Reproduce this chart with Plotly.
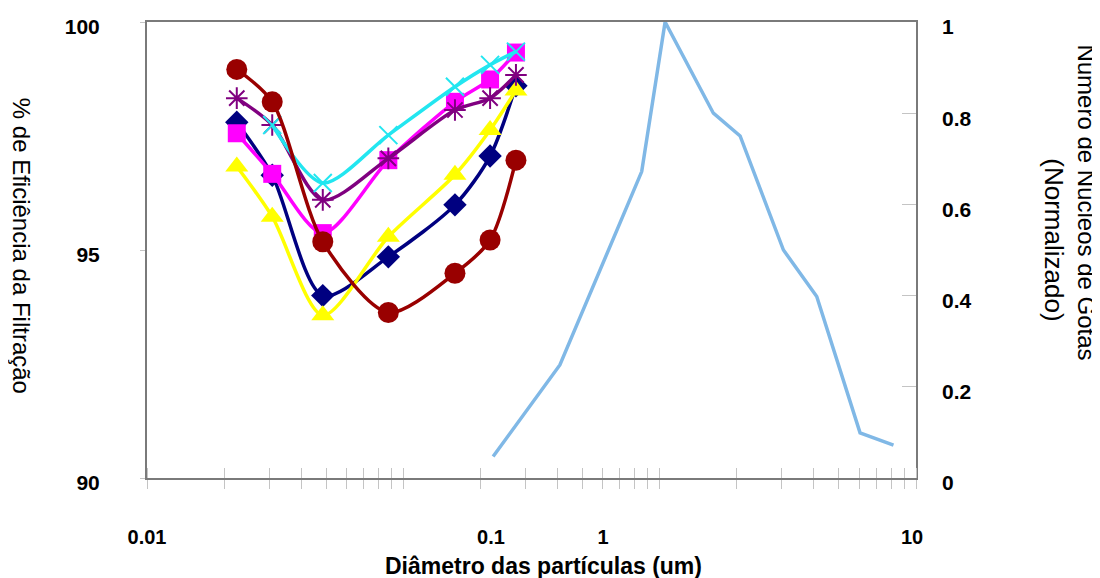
import plotly.graph_objects as go

# ---------------- data ----------------
diam_eff = [0.0224, 0.0308, 0.0485, 0.0874, 0.159, 0.218, 0.275]
diam_eff_cyan = [0.0308, 0.0485, 0.0874, 0.159, 0.218, 0.275]

eff_maroon = [98.96, 98.25, 95.18, 93.63, 94.49, 95.22, 96.97]
eff_navy = [97.80, 96.64, 94.00, 94.85, 95.99, 97.06, 98.60]
eff_yellow = [96.83, 95.73, 93.57, 95.29, 96.65, 97.63, 98.50]
eff_magenta = [97.56, 96.67, 95.37, 96.97, 98.25, 98.74, 99.33]
eff_purple = [98.33, 97.74, 96.10, 97.01, 98.07, 98.33, 98.84]
eff_cyan = [97.74, 96.47, 97.52, 98.58, 99.06, 99.35]

diam_dist = [0.224, 0.408, 0.851, 1.05, 1.62, 2.06, 3.04, 4.10, 6.05, 8.17]
nucleos = [0.047, 0.248, 0.672, 1.0, 0.80, 0.75, 0.50, 0.398, 0.099, 0.072]

x_tick_text = ["0.01", "0.1", "1", "10"]
x_tick_pos = [0.01, 0.2198, 0.601, 9.65]          # where the reference prints its labels
x_minor_pos = [m * 10.0 ** k for k in (-2, -1, 0) for m in range(1, 10)] + [10.0]

y_left_ticks = [90, 95, 100]

FONT = "Liberation Sans, Arial, sans-serif"

fig = go.Figure()

def eff_trace(x, y, color, symbol, size, lw=3.5, mline=None):
    marker = dict(symbol=symbol, size=size, color=color)
    if mline is not None:
        marker["line"] = dict(color=color, width=mline)
    fig.add_trace(go.Scatter(
        x=x, y=y, mode="lines+markers", xaxis="x", yaxis="y",
        line=dict(color=color, width=lw, shape="spline", smoothing=0.8),
        marker=marker, showlegend=False, hoverinfo="x+y"))

eff_trace(diam_eff, eff_navy, "#000080", "diamond", 18)
eff_trace(diam_eff, eff_yellow, "#FFFF00", "triangle-up", 20)
eff_trace(diam_eff, eff_magenta, "#FF00FF", "square", 18)
eff_trace(diam_eff, eff_purple, "#800080", "asterisk-open", 18, mline=2)
eff_trace(diam_eff_cyan, eff_cyan, "#22E6F0", "x-thin-open", 18, mline=2)
eff_trace(diam_eff, eff_maroon, "#990000", "circle", 21)

fig.add_trace(go.Scatter(
    x=diam_dist, y=nucleos, mode="lines", xaxis="x2", yaxis="y2",
    line=dict(color="#80B8E6", width=3.5), showlegend=False))

tick_grey = "#c4c4c4"
frame = "#7a7a7a"

fig.update_layout(
    width=1092, height=570,
    margin=dict(l=139, r=184, t=14, b=100, autoexpand=False),
    paper_bgcolor="white", plot_bgcolor="white",
    font=dict(family=FONT, color="black"),
    xaxis=dict(
        type="log", range=[-2, 1], showgrid=False, zeroline=False, automargin=False,
        showline=True, linecolor=frame, linewidth=2, mirror=True,
        tickmode="array", tickvals=x_tick_pos, ticktext=x_tick_text,
        ticks="", ticklabelstandoff=40,
        tickfont=dict(size=20, weight="bold", family=FONT, color="black"),
        minor=dict(tickmode="array", tickvals=x_minor_pos, ticks="outside",
                   ticklen=9, tickwidth=1, tickcolor=tick_grey, showgrid=False),
    ),
    xaxis2=dict(
        type="log", range=[-2, 1], overlaying="x", anchor="y2", side="bottom",
        showgrid=False, zeroline=False, showline=False, showticklabels=False,
        ticks="", automargin=False,
        minor=dict(tickmode="array", tickvals=x_minor_pos, ticks="inside",
                   ticklen=10, tickwidth=1, tickcolor=tick_grey, showgrid=False),
    ),
    yaxis=dict(
        range=[90, 100], tickmode="array", tickvals=y_left_ticks,
        showgrid=False, zeroline=False, automargin=False,
        showline=True, linecolor=frame, linewidth=2, mirror=True,
        ticks="outside", ticklen=5, tickcolor=tick_grey, ticklabelstandoff=36,
        ticklabelshift=5,
        tickfont=dict(size=21, weight="bold", family=FONT, color="black"),
    ),
    yaxis2=dict(
        range=[0, 1], dtick=0.2, tick0=0, overlaying="y", side="right",
        showgrid=False, zeroline=False, showline=False, automargin=False,
        ticks="inside", ticklen=14, tickcolor=tick_grey, ticklabelstandoff=25,
        ticklabelshift=5,
        tickfont=dict(size=21, weight="bold", family=FONT, color="black"),
    ),
    annotations=[
        dict(text="% de Eficiência da Filtração", textangle=90,
             xref="paper", yref="paper", x=-0.163, y=0.51,
             xanchor="center", yanchor="middle", showarrow=False,
             font=dict(size=24, family=FONT, color="black")),
        dict(text="Número de Núcleos de Gotas", textangle=90,
             xref="paper", yref="paper", x=1.222, y=0.605,
             xanchor="center", yanchor="middle", showarrow=False,
             font=dict(size=24, family=FONT, color="black")),
        dict(text="(Normalizado)", textangle=90,
             xref="paper", yref="paper", x=1.179, y=0.522,
             xanchor="center", yanchor="middle", showarrow=False,
             font=dict(size=26, family=FONT, color="black")),
        dict(text="Diâmetro das partículas (um)",
             xref="paper", yref="paper", x=0.516, y=-0.192,
             xanchor="center", yanchor="middle", showarrow=False,
             font=dict(size=23, family=FONT, color="black", weight="bold")),
    ],
)

fig.write_html("out.html")
